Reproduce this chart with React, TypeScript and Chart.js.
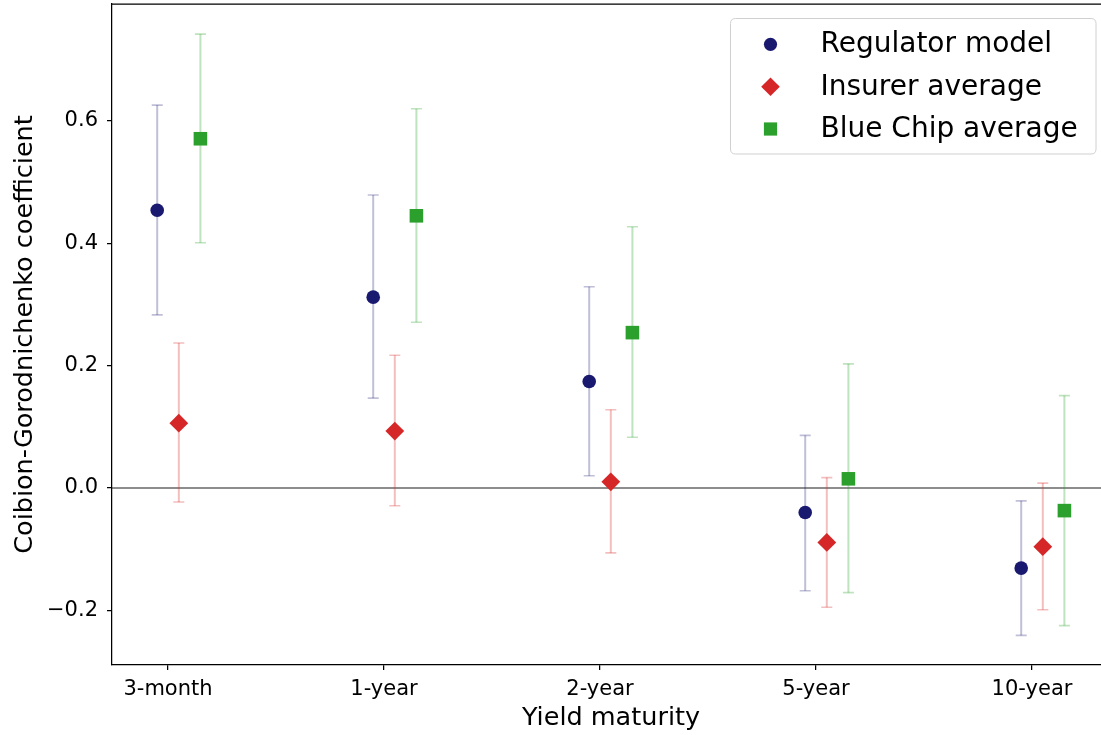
import { useEffect, useRef } from "react";
import { Chart, registerables } from "chart.js";

Chart.register(...registerables);

// Yield maturities on the horizontal axis
const maturities = ["3-month", "1-year", "2-year", "5-year", "10-year"];

// Series labels, colours and marker shapes
const seriesNames = ["Regulator model", "Insurer average", "Blue Chip average"];
const seriesColors = ["#191970", "#d62728", "#2ca02c"];
const seriesBarColors = ["rgba(25,25,112,0.28)", "rgba(214,39,40,0.3)", "rgba(44,160,44,0.3)"];
const seriesShapes = ["circle", "rectRot", "rect"];
const seriesRadius = [6.8, 9.4, 9.6];
const seriesOffsets = [-0.05, 0.05, 0.15];

// Point estimates and confidence bounds
const regulatorCoef = [0.454, 0.312, 0.174, -0.04, -0.131];
const regulatorLow = [0.283, 0.147, 0.02, -0.168, -0.241];
const regulatorHigh = [0.626, 0.479, 0.329, 0.086, -0.021];

const insurerCoef = [0.106, 0.093, 0.01, -0.089, -0.096];
const insurerLow = [-0.023, -0.029, -0.106, -0.195, -0.199];
const insurerHigh = [0.237, 0.217, 0.128, 0.017, 0.008];

const blueChipCoef = [0.571, 0.445, 0.254, 0.015, -0.037];
const blueChipLow = [0.401, 0.271, 0.083, -0.171, -0.225];
const blueChipHigh = [0.742, 0.62, 0.427, 0.203, 0.151];

const yTicks = [-0.2, 0.0, 0.2, 0.4, 0.6];

const FONT = "'DejaVu Sans', 'Liberation Sans', sans-serif";

const coefs = [regulatorCoef, insurerCoef, blueChipCoef];
const lows = [regulatorLow, insurerLow, blueChipLow];
const highs = [regulatorHigh, insurerHigh, blueChipHigh];

function fmtTick(v: number): string {
  const s = Math.abs(v).toFixed(1);
  return v < -1e-9 ? "\u2212" + s : s;
}

// Error bars and the zero reference line, drawn beneath the markers
const errorBarPlugin = {
  id: "errorBars",
  beforeDatasetsDraw(chart: any) {
    const { ctx, chartArea, scales } = chart;
    const xs = scales.x;
    const ys = scales.y;
    ctx.save();
    ctx.beginPath();
    ctx.rect(chartArea.left, chartArea.top, chartArea.right - chartArea.left, chartArea.bottom - chartArea.top);
    ctx.clip();

    // horizontal line at zero
    const y0 = ys.getPixelForValue(0);
    ctx.strokeStyle = "rgba(0,0,0,0.6)";
    ctx.lineWidth = 1.3;
    ctx.beginPath();
    ctx.moveTo(chartArea.left, y0);
    ctx.lineTo(chartArea.right, y0);
    ctx.stroke();

    chart.data.datasets.forEach((ds: any, si: number) => {
      ctx.strokeStyle = seriesBarColors[si];
      ds.data.forEach((pt: any) => {
        const px = xs.getPixelForValue(pt.x);
        const pLow = ys.getPixelForValue(pt.low);
        const pHigh = ys.getPixelForValue(pt.high);
        ctx.lineWidth = 2;
        ctx.beginPath();
        ctx.moveTo(px, pLow);
        ctx.lineTo(px, pHigh);
        ctx.stroke();
        ctx.lineWidth = 1.6;
        ctx.beginPath();
        ctx.moveTo(px - 5.5, pLow);
        ctx.lineTo(px + 5.5, pLow);
        ctx.moveTo(px - 5.5, pHigh);
        ctx.lineTo(px + 5.5, pHigh);
        ctx.stroke();
      });
    });
    ctx.restore();
  },
  afterDraw(chart: any) {
    const { ctx, chartArea } = chart;
    ctx.save();
    // top and right spines
    ctx.strokeStyle = "#000";
    ctx.lineWidth = 1.25;
    ctx.beginPath();
    ctx.moveTo(chartArea.left, chartArea.top);
    ctx.lineTo(chartArea.right, chartArea.top);
    ctx.lineTo(chartArea.right, chartArea.bottom);
    ctx.stroke();

    // legend box
    const bx = 730.5, by = 18.5, bw = 365.5, bh = 135.5, r = 5;
    ctx.beginPath();
    ctx.moveTo(bx + r, by);
    ctx.lineTo(bx + bw - r, by);
    ctx.quadraticCurveTo(bx + bw, by, bx + bw, by + r);
    ctx.lineTo(bx + bw, by + bh - r);
    ctx.quadraticCurveTo(bx + bw, by + bh, bx + bw - r, by + bh);
    ctx.lineTo(bx + r, by + bh);
    ctx.quadraticCurveTo(bx, by + bh, bx, by + bh - r);
    ctx.lineTo(bx, by + r);
    ctx.quadraticCurveTo(bx, by, bx + r, by);
    ctx.closePath();
    ctx.fillStyle = "rgba(255,255,255,0.8)";
    ctx.fill();
    ctx.strokeStyle = "#d0d0d0";
    ctx.lineWidth = 1;
    ctx.stroke();

    const rowY = [44.3, 86.8, 129];
    seriesNames.forEach((name, i) => {
      const mx = 770.5;
      const my = rowY[i];
      ctx.fillStyle = seriesColors[i];
      ctx.beginPath();
      if (seriesShapes[i] === "circle") {
        ctx.arc(mx, my, 6.6, 0, Math.PI * 2);
      } else if (seriesShapes[i] === "rectRot") {
        const d = 9.3;
        ctx.moveTo(mx, my - d);
        ctx.lineTo(mx + d, my);
        ctx.lineTo(mx, my + d);
        ctx.lineTo(mx - d, my);
        ctx.closePath();
      } else {
        const h = 6.6;
        ctx.rect(mx - h, my - h, 2 * h, 2 * h);
      }
      ctx.fill();

      ctx.fillStyle = "#000";
      ctx.font = `28px ${FONT}`;
      ctx.textAlign = "left";
      ctx.textBaseline = "alphabetic";
      ctx.fillText(name, 820.5, my + 7.8);
    });
    ctx.restore();
  },
};

export default function App() {
  const canvasRef = useRef<HTMLCanvasElement | null>(null);

  useEffect(() => {
    if (!canvasRef.current) return;
    const datasets = seriesNames.map((name, si) => ({
      label: name,
      data: maturities.map((_, i) => ({
        x: i + seriesOffsets[si],
        y: coefs[si][i],
        low: lows[si][i],
        high: highs[si][i],
      })),
      pointStyle: seriesShapes[si],
      pointRadius: seriesRadius[si],
      pointHoverRadius: seriesRadius[si],
      pointBackgroundColor: seriesColors[si],
      pointBorderWidth: 0,
      backgroundColor: seriesColors[si],
      borderColor: seriesColors[si],
      showLine: false,
    }));

    const chart = new Chart(canvasRef.current, {
      type: "scatter",
      data: { datasets: datasets as any },
      options: {
        animation: false,
        responsive: false,
        devicePixelRatio: 1,
        layout: { autoPadding: false, padding: { top: 4, right: 1, left: 0, bottom: 0 } },
        plugins: {
          legend: { display: false },
          tooltip: { enabled: false },
        },
        scales: {
          x: {
            type: "linear",
            min: -0.2593,
            max: 4.3611,
            afterBuildTicks: (scale: any) => {
              scale.ticks = maturities.map((_, i) => ({ value: i }));
            },
            afterFit: (scale: any) => {
              scale.height = 70;
              scale.paddingLeft = 0;
              scale.paddingRight = 0;
            },
            grid: {
              drawOnChartArea: false,
              drawTicks: true,
              tickLength: 5,
              color: "#000",
              lineWidth: 1.25,
            },
            border: { display: true, color: "#000", width: 1.25 },
            ticks: {
              color: "#000",
              font: { family: FONT, size: 21 },
              padding: 7,
              maxRotation: 0,
              autoSkip: false,
              callback: (v: any) => maturities[Math.round(Number(v))] ?? "",
            },
            title: {
              display: true,
              text: "Yield maturity",
              color: "#000",
              font: { family: FONT, size: 25.5 },
              padding: { top: 0, bottom: 1 },
            },
          },
          y: {
            type: "linear",
            min: -0.2894,
            max: 0.7913,
            afterBuildTicks: (scale: any) => {
              scale.ticks = yTicks.map((v) => ({ value: v }));
            },
            afterFit: (scale: any) => {
              scale.width = 112;
              scale.paddingTop = 0;
              scale.paddingBottom = 0;
            },
            grid: {
              drawOnChartArea: false,
              drawTicks: true,
              tickLength: 5,
              color: "#000",
              lineWidth: 1.25,
            },
            border: { display: true, color: "#000", width: 1.25 },
            ticks: {
              color: "#000",
              font: { family: FONT, size: 21 },
              padding: 9,
              autoSkip: false,
              callback: (v: any) => fmtTick(Number(v)),
            },
            title: {
              display: true,
              text: "Coibion-Gorodnichenko coefficient",
              color: "#000",
              font: { family: FONT, size: 25.5 },
              padding: { top: 10, bottom: 0 },
            },
          },
        },
      },
      plugins: [errorBarPlugin],
    });

    return () => chart.destroy();
  }, []);

  return (
    <div
      style={{
        position: "absolute",
        left: 0,
        top: 0,
        width: 1101,
        height: 735,
        overflow: "hidden",
        background: "#fff",
      }}
    >
      <canvas ref={canvasRef} width={1111} height={735} style={{ display: "block" }} />
    </div>
  );
}
